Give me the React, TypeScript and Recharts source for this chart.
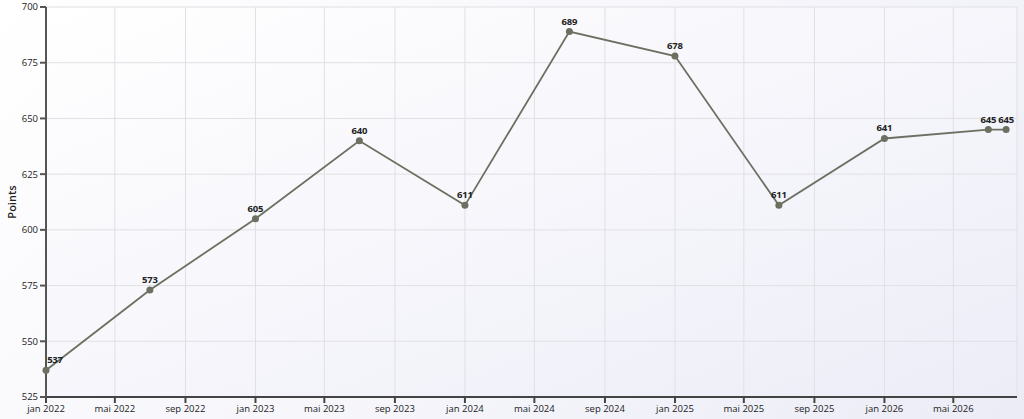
import React from 'react'
import { LineChart, Line, XAxis, YAxis, CartesianGrid, LabelList, Label } from 'recharts'

const pointDates = ['2022-01-01', '2022-07-01', '2023-01-01', '2023-07-01', '2024-01-01', '2024-07-01', '2025-01-01', '2025-07-01', '2026-01-01', '2026-07-01', '2026-08-01']
const pointValues = [537, 573, 605, 640, 611, 689, 678, 611, 641, 645, 645]
const tickDates = ['2022-01-01', '2022-05-01', '2022-09-01', '2023-01-01', '2023-05-01', '2023-09-01', '2024-01-01', '2024-05-01', '2024-09-01', '2025-01-01', '2025-05-01', '2025-09-01', '2026-01-01', '2026-05-01']
const yTicks = [525, 550, 575, 600, 625, 650, 675, 700]
const monthNames = ['jan', 'fév', 'mar', 'avr', 'mai', 'jun', 'jul', 'aoû', 'sep', 'oct', 'nov', 'déc']
const domainStart = '2022-01-01'
const domainEnd = '2026-08-20'

const toTime = (s: string) => new Date(s + 'T00:00:00Z').getTime()

const data = pointDates.map((d, i) => ({ t: toTime(d), points: pointValues[i] }))
const xTicks = tickDates.map(toTime)

const formatTick = (t: number) => {
  const d = new Date(t)
  return `${monthNames[d.getUTCMonth()]} ${d.getUTCFullYear()}`
}

const FONT = '"Open Sans", "Noto Sans", sans-serif'
const LINE = '#6b7061'

const ValueLabel = (props: any) => {
  const { x, y, value } = props
  const cx = Math.max(x, 55)
  return (
    <text x={cx} y={y - 7} textAnchor="middle" fontSize={9.5} letterSpacing={-0.2} fontWeight={700} fill="#222" fontFamily={FONT}>
      {value}
    </text>
  )
}

const AxisTitle = (props: any) => {
  const { viewBox } = props
  const cy = viewBox.y + viewBox.height / 2
  return (
    <text x={11} y={cy} transform={`rotate(-90 11 ${cy})`} textAnchor="middle" dominantBaseline="central" fontSize={11} fontWeight={600} fill="#222" fontFamily={FONT}>
      Points
    </text>
  )
}

export default function App() {
  return (
    <div
      style={{
        position: 'absolute',
        top: 0,
        left: 0,
        width: 1024,
        height: 419,
        background: 'linear-gradient(135deg, #ffffff 0%, #f6f6fb 50%, #ececf7 100%)',
      }}
    >
      <LineChart width={1024} height={419} data={data} margin={{ top: 7, right: 7, bottom: 0, left: 0 }}>
        <defs>
          <linearGradient id="plotBg" x1="0" y1="0" x2="1" y2="1">
            <stop offset="0%" stopColor="#ffffff" />
            <stop offset="100%" stopColor="#ededf8" />
          </linearGradient>
        </defs>
        <CartesianGrid stroke="#e0e0e4" fill="url(#plotBg)" />
        <XAxis
          dataKey="t"
          type="number"
          scale="time"
          domain={[toTime(domainStart), toTime(domainEnd)]}
          ticks={xTicks}
          tickFormatter={formatTick}
          interval={0}
          height={22}
          stroke="#444"
          strokeWidth={2}
          tickSize={6}
          tick={{ fontSize: 9.5, fill: '#222', fontFamily: FONT }}
        />
        <XAxis xAxisId="top" orientation="top" dataKey="t" type="number" domain={[toTime(domainStart), toTime(domainEnd)]} height={0} tick={false} tickLine={false} stroke="#bdbdc2" strokeWidth={3} />
        <YAxis
          domain={[525, 700]}
          ticks={yTicks}
          width={46}
          stroke="#555"
          strokeWidth={2}
          tickSize={6}
          tick={{ fontSize: 9.5, fill: '#222', fontFamily: FONT }}
        >
          <Label content={AxisTitle} />
        </YAxis>
        <YAxis yAxisId="right" orientation="right" domain={[525, 700]} width={0} tick={false} tickLine={false} stroke="#bdbdc2" strokeWidth={3} />
        <Line
          dataKey="points"
          stroke={LINE}
          strokeWidth={1.8}
          dot={{ r: 3.5, fill: LINE, stroke: LINE, strokeWidth: 0 }}
          activeDot={false}
          isAnimationActive={false}
        >
          <LabelList dataKey="points" content={ValueLabel} />
        </Line>
      </LineChart>
    </div>
  )
}
